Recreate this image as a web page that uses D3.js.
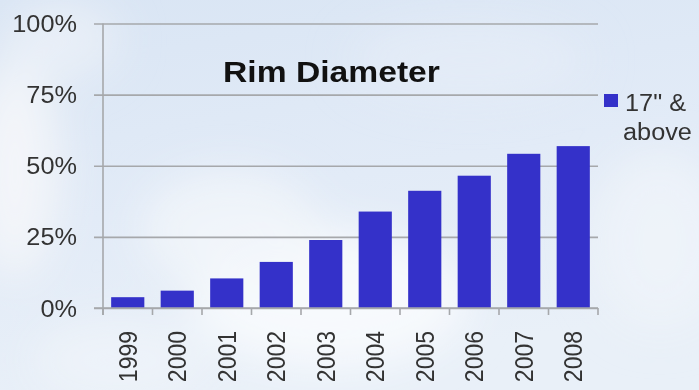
<!DOCTYPE html>
<html>
<head>
<meta charset="utf-8">
<script src="https://cdn.jsdelivr.net/npm/d3@7"></script>
<style>
  html, body { margin: 0; padding: 0; background: #e4ecf6; }
  svg { display: block; }
  text { font-family: "Liberation Sans", Arial, sans-serif; }
</style>
</head>
<body>
<svg id="chart" width="699" height="390"></svg>
<script>
// Share of new vehicles fitted with rims of 17" and above
const years = ["1999", "2000", "2001", "2002", "2003", "2004", "2005", "2006", "2007", "2008"];
const share = [3.8, 6.1, 10.4, 16.2, 23.9, 33.9, 41.2, 46.5, 54.2, 56.9];
const yTicks = [0, 25, 50, 75, 100];
const seriesName = ["17\" &", "above"];
const chartTitle = "Rim Diameter";

const W = 699, H = 390;
const plot = { left: 103, right: 598, top: 23.5, bottom: 308 };
const stretch = 1.1;   // slightly wide lettering

const svg = d3.select("#chart");

// --- sky backdrop ---
const defs = svg.append("defs");
const bg = defs.append("linearGradient").attr("id", "sky")
  .attr("x1", 0).attr("y1", 0).attr("x2", 0.3).attr("y2", 1);
bg.append("stop").attr("offset", "0%").attr("stop-color", "#d9e5f4");
bg.append("stop").attr("offset", "55%").attr("stop-color", "#e2ebf7");
bg.append("stop").attr("offset", "100%").attr("stop-color", "#e9f0f8");

defs.append("filter").attr("id", "cloudBlur")
  .attr("x", "-50%").attr("y", "-50%").attr("width", "200%").attr("height", "200%")
  .append("feGaussianBlur").attr("stdDeviation", 22);

svg.append("rect").attr("width", W).attr("height", H).attr("fill", "url(#sky)");

const clouds = [
  { cx: 15, cy: 170, rx: 45, ry: 110, c: "#f3f6f9", o: 0.95 },
  { cx: 60, cy: 40, rx: 60, ry: 40, c: "#eef2f8", o: 0.7 },
  { cx: 330, cy: 300, rx: 140, ry: 70, c: "#f8fafd", o: 0.95 },
  { cx: 230, cy: 230, rx: 90, ry: 60, c: "#f2f6fa", o: 0.8 },
  { cx: 660, cy: 240, rx: 70, ry: 90, c: "#eef3f9", o: 0.85 },
  { cx: 470, cy: 60, rx: 120, ry: 40, c: "#e8eff8", o: 0.6 },
  { cx: 120, cy: 360, rx: 90, ry: 40, c: "#eff3f9", o: 0.85 }
];
svg.append("g").attr("filter", "url(#cloudBlur)")
  .selectAll("ellipse").data(clouds).join("ellipse")
  .attr("cx", d => d.cx).attr("cy", d => d.cy)
  .attr("rx", d => d.rx).attr("ry", d => d.ry)
  .attr("fill", d => d.c).attr("opacity", d => d.o);

// --- scales ---
const x = d3.scaleBand().domain(years)
  .range([plot.left, plot.right]).paddingInner(0.33).paddingOuter(0.165);
const y = d3.scaleLinear().domain([0, 100]).range([plot.bottom, plot.top]);

function widen(sel, factor = stretch) {
  sel.each(function () {
    const len = this.getComputedTextLength();
    d3.select(this).attr("textLength", len * factor).attr("lengthAdjust", "spacingAndGlyphs");
  });
}

// --- gridlines + y axis ---
const yAxis = d3.axisLeft(y).tickValues(yTicks)
  .tickSize(-(plot.right - plot.left) - 9).tickSizeOuter(0)
  .tickPadding(0).tickFormat(d => d + "%");
const gy = svg.append("g").attr("transform", `translate(${plot.right},0)`).call(yAxis);
gy.select(".domain").remove();
gy.selectAll(".tick line")
  .attr("x1", 0).attr("x2", -(plot.right - plot.left) - 9)
  .attr("stroke", "#a6a8ab").attr("stroke-width", 1.6);
gy.selectAll(".tick text")
  .attr("x", -(plot.right - 77))
  .attr("dy", "0.35em")
  .attr("fill", "#333")
  .style("font-size", "23px")
  .attr("text-anchor", "end")
  .call(widen);

// vertical axis line
svg.append("line")
  .attr("x1", plot.left).attr("x2", plot.left)
  .attr("y1", y(100)).attr("y2", y(0) + 7)
  .attr("stroke", "#a6a8ab").attr("stroke-width", 1.6);

// --- bars ---
svg.append("g").selectAll("rect").data(years).join("rect")
  .attr("x", d => x(d))
  .attr("width", x.bandwidth())
  .attr("y", (d, i) => y(share[i]))
  .attr("height", (d, i) => y(0) - y(share[i]))
  .attr("fill", "#3431c9");

// --- x axis (ticks at category boundaries) ---
const step = x.step();
const bounds = d3.range(years.length + 1).map(i => plot.left + i * step);
svg.append("line")
  .attr("x1", plot.left - 9).attr("x2", plot.right)
  .attr("y1", y(0)).attr("y2", y(0))
  .attr("stroke", "#a6a8ab").attr("stroke-width", 1.6);
svg.append("g").selectAll("line").data(bounds).join("line")
  .attr("x1", d => d).attr("x2", d => d)
  .attr("y1", y(0)).attr("y2", y(0) + 7)
  .attr("stroke", "#a6a8ab").attr("stroke-width", 1.6);

svg.append("g").selectAll("text").data(years).join("text")
  .attr("transform", d => `translate(${x(d) + x.bandwidth() / 2},331) rotate(-90) scale(1,${stretch})`)
  .attr("text-anchor", "end")
  .attr("dy", "0.35em")
  .attr("fill", "#333")
  .style("font-size", "23px")
  .text(d => d);

// --- title ---
svg.append("text")
  .attr("x", 331.5).attr("y", 82)
  .attr("text-anchor", "middle")
  .attr("fill", "#111")
  .style("font-size", "29px").style("font-weight", "bold")
  .text(chartTitle)
  .call(widen, 1.16);

// --- legend ---
const lg = svg.append("g");
lg.append("rect").attr("x", 604).attr("y", 94).attr("width", 14).attr("height", 13)
  .attr("fill", "#3431c9");
lg.selectAll("text").data(seriesName).join("text")
  .attr("x", (d, i) => i === 0 ? 625 : 623)
  .attr("y", (d, i) => 111 + i * 28.5)
  .attr("fill", "#333")
  .style("font-size", "23px")
  .text(d => d)
  .call(widen);
</script>
</body>
</html>
